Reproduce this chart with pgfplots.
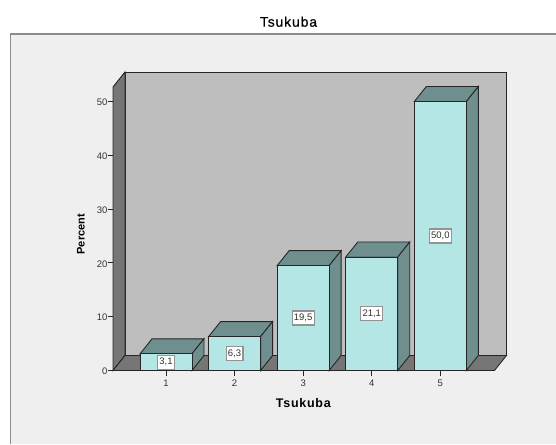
\documentclass[border=0pt]{standalone}
\usepackage{pgfplots}
\usepackage{pgfplotstable}
\usepackage{fontspec}
\setmainfont{Liberation Sans}
\pgfplotsset{compat=1.18}
\definecolor{panel}{HTML}{EFEFEF}
\definecolor{framec}{HTML}{8C8C8C}
\definecolor{backwall}{HTML}{BEBEBE}
\definecolor{sidewall}{HTML}{767676}
\definecolor{barfront}{HTML}{B5E6E6}
\definecolor{barside}{HTML}{6F8F8F}
\definecolor{edge}{HTML}{262626}
\definecolor{ticktext}{HTML}{333333}

% category position, percentage
\pgfplotstableread{
cat pct
1 3.1
2 6.3
3 19.5
4 21.1
5 50.0
}\pcttable

% label position at half height of each bar
\pgfplotstableread{
cat mid label
1 1.55 {3,1}
2 3.15 {6,3}
3 9.75 {19,5}
4 10.55 {21,1}
5 25.0 {50,0}
}\labeltable

\begin{document}
\begin{tikzpicture}[x=1pt,y=1pt]
\useasboundingbox (0,0) rectangle (556,444);
\fill[panel] (10.5,0) rectangle (556,410);
\draw[framec,line width=1.6pt] (10.5,0) -- (10.5,410) -- (556,410);
\node[font=\fontsize{14}{16}\selectfont\addfontfeature{FakeBold=0.5,LetterSpace=6},text=black,anchor=base,inner sep=0pt] at (288.5,417.3) {Tsukuba};
\begin{axis}[
  at={(113pt,73.5pt)}, anchor=south west,
  scale only axis, width=381.5pt, height=283.5pt,
  xmin=0.227, xmax=5.79, ymin=0, ymax=52.7,
  clip=false,
  axis x line=bottom, axis y line=left,
  axis line style={-,edge,line width=0.9pt},
  tick align=outside,
  major tick length=5.5pt,
  tick style={edge,line width=0.9pt},
  xtick={1,2,3,4,5},
  ytick={0,10,20,30,40,50},
  tick label style={font=\fontsize{9.5}{11}\selectfont,text=ticktext},
  /pgf/number format/assume math mode=true,
  xticklabel style={yshift=-0.5pt},
  yticklabel style={xshift=3.5pt,yshift=-1pt},
  xlabel={\textbf{\addfontfeature{LetterSpace=6}Tsukuba}},
  ylabel={\textbf{Percent}},
  xlabel style={font=\fontsize{12.5}{14}\selectfont,text=black,at={(axis description cs:0.5,0)},anchor=base,yshift=-37pt},
  ylabel style={font=\fontsize{11}{13}\selectfont,text=black,at={(axis description cs:0,0.5)},anchor=base,yshift=28.5pt,xshift=-5.5pt},
]
% chart walls and floor
\addplot[fill=backwall,draw=edge,line width=0.9pt] coordinates {(0.402,2.79) (5.965,2.79) (5.965,55.49) (0.402,55.49)} -- cycle;
\addplot[fill=sidewall,draw=edge,line width=0.9pt] coordinates {(0.227,0) (0.402,2.79) (0.402,55.49) (0.227,52.7)} -- cycle;
\addplot[fill=sidewall,draw=edge,line width=0.9pt] coordinates {(0.227,0) (5.79,0) (5.965,2.79) (0.402,2.79)} -- cycle;
% top and side of every bar
\addplot[fill=barside,draw=edge,line width=0.9pt] coordinates {(0.621,3.1) (1.379,3.1) (1.554,5.89) (0.796,5.89)} -- cycle;
\addplot[fill=barside,draw=edge,line width=0.9pt] coordinates {(1.379,0) (1.554,2.79) (1.554,5.89) (1.379,3.1)} -- cycle;
\addplot[fill=barside,draw=edge,line width=0.9pt] coordinates {(1.621,6.3) (2.379,6.3) (2.554,9.09) (1.796,9.09)} -- cycle;
\addplot[fill=barside,draw=edge,line width=0.9pt] coordinates {(2.379,0) (2.554,2.79) (2.554,9.09) (2.379,6.3)} -- cycle;
\addplot[fill=barside,draw=edge,line width=0.9pt] coordinates {(2.621,19.5) (3.379,19.5) (3.554,22.29) (2.796,22.29)} -- cycle;
\addplot[fill=barside,draw=edge,line width=0.9pt] coordinates {(3.379,0) (3.554,2.79) (3.554,22.29) (3.379,19.5)} -- cycle;
\addplot[fill=barside,draw=edge,line width=0.9pt] coordinates {(3.621,21.1) (4.379,21.1) (4.554,23.89) (3.796,23.89)} -- cycle;
\addplot[fill=barside,draw=edge,line width=0.9pt] coordinates {(4.379,0) (4.554,2.79) (4.554,23.89) (4.379,21.1)} -- cycle;
\addplot[fill=barside,draw=edge,line width=0.9pt] coordinates {(4.621,50) (5.379,50) (5.554,52.79) (4.796,52.79)} -- cycle;
\addplot[fill=barside,draw=edge,line width=0.9pt] coordinates {(5.379,0) (5.554,2.79) (5.554,52.79) (5.379,50)} -- cycle;
% front faces
\addplot[ybar,bar width=52pt,bar shift=0pt,fill=barfront,draw=edge,line width=0.9pt] table[x=cat,y=pct] {\pcttable};
% value labels
\addplot[draw=none,mark=none,
  point meta=explicit symbolic,
  nodes near coords,
  nodes near coords align={center},
  nodes near coords style={anchor=center,draw=gray!85,line width=1.2pt,fill=white,
    inner xsep=1.8pt,inner ysep=2.8pt,text height=7pt,text depth=1.5pt,
    font=\fontsize{9.5}{11}\selectfont,text=ticktext},
] table[x=cat,y=mid,meta=label] {\labeltable};
\end{axis}
\end{tikzpicture}
\end{document}
